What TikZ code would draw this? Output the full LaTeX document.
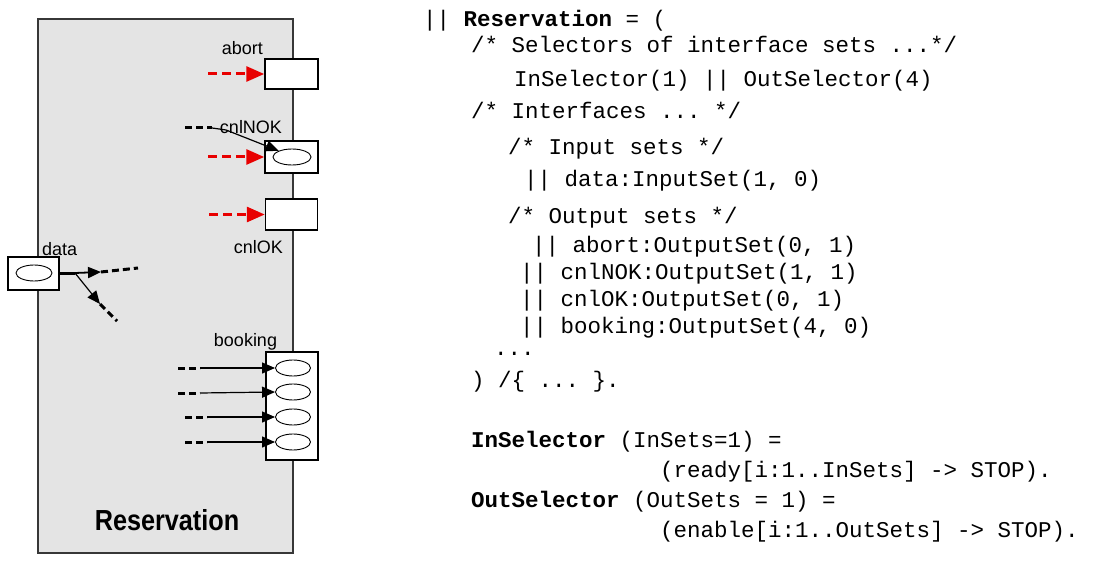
\documentclass[tikz,border=0pt]{standalone}
\usepackage{fontspec}
\setmainfont{Liberation Sans}
\setmonofont{Liberation Mono}
\usetikzlibrary{arrows.meta,positioning,shapes.geometric}
\definecolor{boxgray}{RGB}{228,228,228}
\definecolor{edgegray}{RGB}{55,55,55}
\definecolor{portred}{RGB}{232,0,0}

\begin{document}
\begin{tikzpicture}[x=1pt, y=-1pt, every node/.style={inner sep=0pt},
    port/.style={draw, fill=white, line width=1.5pt},
    chan/.style={draw, ellipse, line width=0.9pt, minimum width=36pt, minimum height=16pt},
    lbl/.style={font=\fontsize{18}{20}\selectfont, anchor=base},
    code/.style={font=\ttfamily\fontsize{22.5}{26}\selectfont, anchor=base west},
    redarr/.style={draw=portred, line width=3pt, dash pattern=on 9pt off 5pt, -{Triangle[length=18pt, width=15pt]}},
    lead/.style={line width=3pt, dash pattern=on 7pt off 4pt},
    blkarr/.style={line width=1.2pt, -{Triangle[length=13pt, width=11pt]}}]
    \useasboundingbox (0,0) rectangle (1097,580);

    % component
    \node[draw=edgegray, fill=boxgray, line width=2pt, minimum width=255pt, minimum height=534pt, anchor=north west] (resv) at (37,18) {};
    \node[font=\bfseries\fontsize{29}{32}\selectfont] (resvname) at (167,520) {\scalebox{0.87}[1]{Reservation}};

    % interface sets
    \node[port, minimum width=53pt, minimum height=30pt] (abort) at (291.5,74) {};
    \node[port, minimum width=53pt, minimum height=32pt] (nok) at (291.5,157) {};
    \node[port, minimum width=52pt, minimum height=31pt] (ok) at (291.5,214.5) {};
    \node[port, minimum width=51pt, minimum height=33pt] (dat) at (33.5,273.5) {};
    \node[port, minimum width=52pt, minimum height=108pt] (book) at (292,406) {};

    \node[lbl, anchor=base east] (abortlbl) at (263,55) {abort};
    \node[lbl] (noklbl) at (251,134) {cnlNOK};
    \node[lbl, anchor=base east] (oklbl) at (283,253) {cnlOK};
    \node[lbl, anchor=base west] (datlbl) at (42,255) {data};
    \node[lbl] (booklbl) at (245.5,346) {booking};

    % channels
    \node[chan, minimum width=38pt] (nokch) at (292,157) {};
    \node[chan] (datch) at (34,273) {};
    \foreach \i/\y in {1/368,2/392,3/417,4/442}
        \node[chan, minimum width=35pt] (bk\i) at (293,\y) {};

    % enabling arrows
    \coordinate (abortin) at (208,74);
    \coordinate (nokred) at (208,157);
    \coordinate (okin) at (209,214.5);
    \draw[redarr] (abortin) -- (abort.west);
    \draw[redarr] (nokred) -- (nok.west);
    \draw[redarr] (okin) -- (ok.west);

    \coordinate (nokin) at (185,128);
    \coordinate (nokbend) at (212,128);
    \draw[lead] (nokin) -- (nokbend);
    \draw[blkarr] (nokbend) -- (226,130) -- (nokch.155);

    \coordinate (dtip1) at (101,272);
    \coordinate (dout1) at (138,268);
    \coordinate (dfork) at (75,273);
    \coordinate (dtip2) at (100,304);
    \coordinate (dout2) at (117,321);
    \draw[line width=3pt] (dat.east |- dfork) -- (dfork);
    \draw[blkarr, line width=1.8pt] (dfork) -- (dtip1);
    \draw[lead] (dtip1) -- (dout1);
    \draw[blkarr] (dfork) -- (dtip2);
    \draw[lead] (dtip2) -- (dout2);

    \foreach \i/\y/\s in {1/368/178,2/393/178,3/417/185,4/442/185} {
        \coordinate (bkin\i) at (\s,\y);
        \coordinate (bkmid\i) at (\s+22,\y);
        \draw[lead] (bkin\i) -- (bkmid\i);
        \draw[blkarr] (bkmid\i) -- (bk\i.west);
    }

    % FSP text
    \node[code] (l1) at (423,27) {|| \textbf{Reservation} = (};
    \node[code] (l2) at (471,53) {/* Selectors of interface sets ...*/};
    \node[code] (l3) at (514,87) {InSelector(1) || OutSelector(4)};
    \node[code] (l4) at (471,119) {/* Interfaces ... */};
    \node[code] (l5) at (508,155) {/* Input sets */};
    \node[code] (l6) at (524,187) {|| data:InputSet(1, 0)};
    \node[code] (l7) at (508,223) {/* Output sets */};
    \node[code] (l8) at (532,252) {|| abort:OutputSet(0, 1)};
    \node[code] (l9) at (520,279) {|| cnlNOK:OutputSet(1, 1)};
    \node[code] (l10) at (520,306) {|| cnlOK:OutputSet(0, 1)};
    \node[code] (l11) at (520,333) {|| booking:OutputSet(4, 0)};
    \node[code] (l12) at (494,355) {...};
    \node[code] (l13) at (471,387) {) /\{ ... \}.};
    \node[code] (l14) at (471,447) {\textbf{InSelector} (InSets=1) =};
    \node[code] (l15) at (660,477) {(ready[i:1..InSets] -> STOP).};
    \node[code] (l16) at (471,507) {\textbf{OutSelector} (OutSets = 1) =};
    \node[code] (l17) at (660,537) {(enable[i:1..OutSets] -> STOP).};
\end{tikzpicture}
\end{document}
